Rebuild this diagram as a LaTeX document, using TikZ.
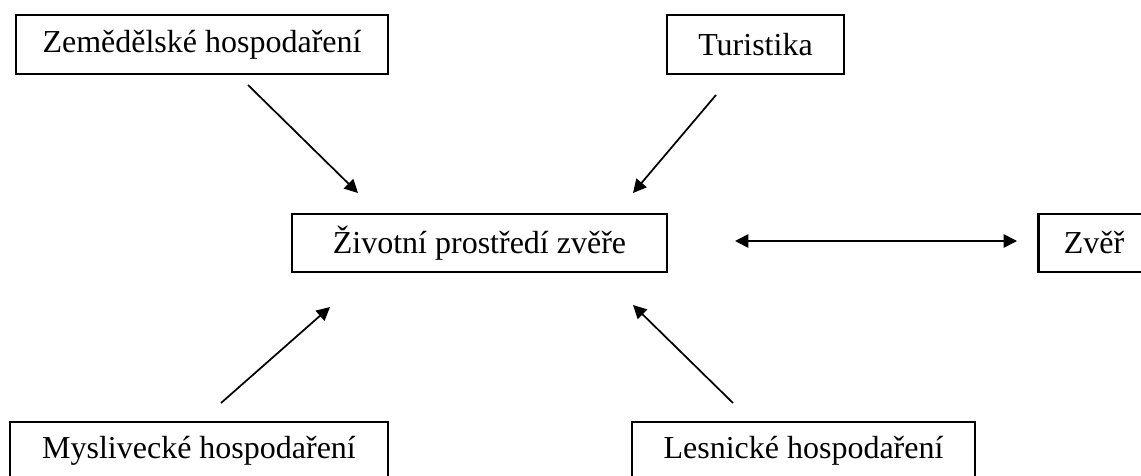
\documentclass[tikz,border=0pt]{standalone}
\usepackage{fontspec}
\setmainfont{Liberation Serif}
\usetikzlibrary{arrows.meta}
\begin{document}
\begin{tikzpicture}[x=0.75pt,y=-0.75pt,
  box/.style={draw=black,line width=1.4pt,fill=white,inner sep=0pt,anchor=center,
    font=\fontsize{24}{28}\selectfont},
  conn/.style={line width=1.3pt,-{Triangle[length=10pt,width=10pt]}},
  dconn/.style={line width=1.3pt,{Triangle[length=10pt,width=10pt]}-{Triangle[length=10pt,width=10pt]}}]
\useasboundingbox (0,0) rectangle (1141,475);
\clip (0,0) rectangle (1141,475);
\node[box,minimum width=372*0.75pt,minimum height=59*0.75pt] (zem) at (202,44.5) {Zemědělské hospodaření};
\node[box,minimum width=177*0.75pt,minimum height=59*0.75pt] (tur) at (755.5,44.5) {Turistika};
\node[box,minimum width=375*0.75pt,minimum height=58*0.75pt] (env) at (479.5,243) {Životní prostředí zvěře};
\node[box,minimum width=110*0.75pt,minimum height=58*0.75pt] (zver) at (1094,243) {Zvěř};
\draw[line width=2.2pt] (zver.north west) -- (zver.south west);
\node[box,minimum width=378*0.75pt,minimum height=58*0.75pt] (mys) at (199,451) {Myslivecké hospodaření};
\node[box,minimum width=343*0.75pt,minimum height=58*0.75pt] (les) at (803.5,451) {Lesnické hospodaření};
\coordinate (a1s) at (248,85);
\coordinate (a1e) at (358,193);
\coordinate (a2s) at (716,95);
\coordinate (a2e) at (633,193);
\coordinate (a3s) at (221,403);
\coordinate (a3e) at (330,307);
\coordinate (a4s) at (733,403);
\coordinate (a4e) at (633,305);
\coordinate (a5s) at (735,241);
\coordinate (a5e) at (1017,241);
\draw[conn] (a1s) -- (a1e);
\draw[conn] (a2s) -- (a2e);
\draw[conn] (a3s) -- (a3e);
\draw[conn] (a4s) -- (a4e);
\draw[dconn] (a5s) -- (a5e);
\end{tikzpicture}
\end{document}
